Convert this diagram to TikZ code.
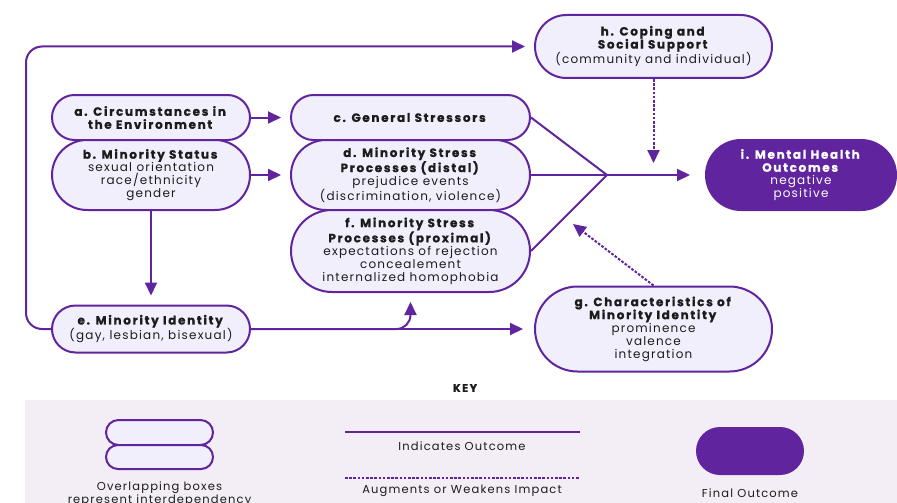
\documentclass[tikz,border=0pt]{standalone}
\usepackage{fontspec}
\setmainfont{Poppins}[LetterSpace=10, BoldFeatures={LetterSpace=14, FakeBold=0.8}]
\usetikzlibrary{arrows.meta,shapes.misc}

\definecolor{msPurple}{RGB}{96,36,158}
\definecolor{msPurpleBg}{RGB}{242,239,252}
\definecolor{msKeyBg}{RGB}{243,238,246}
\definecolor{msText}{RGB}{28,28,28}

\tikzset{
  pill/.style={rounded rectangle, draw=msPurple, line width=2pt, fill=msPurpleBg,
    align=center, inner sep=0pt, text=msText, font=\fontsize{12}{13}\selectfont},
  final/.style={pill, fill=msPurple, text=white},
  flow/.style={draw=msPurple, line width=2pt, -{Triangle[length=13pt,width=12pt]}, shorten >=9pt},
  dotflow/.style={flow, dash pattern=on 2.6pt off 1.6pt},
  keytext/.style={text=msText, font=\fontsize{11.5}{13}\selectfont, align=center}
}

\begin{document}
\begin{tikzpicture}[x=1pt,y=-1pt]
\useasboundingbox (0,0) rectangle (897,503);
%% ---- boxes ----
\node[pill, minimum width=198pt, minimum height=45pt] (a) at (151,117.5)
  {\textbf{a. Circumstances in}\\\textbf{the Environment}};
\node[pill, minimum width=198pt, minimum height=70pt] (b) at (151,175)
  {\textbf{b. Minority Status}\\sexual orientation\\race/ethnicity\\gender};
\node[pill, minimum width=239pt, minimum height=45pt] (c) at (410.5,117.5)
  {\textbf{c. General Stressors}};
\node[pill, minimum width=239pt, minimum height=70pt] (d) at (410.5,175)
  {\textbf{d. Minority Stress}\\\textbf{Processes (distal)}\\prejudice events\\(discrimination, violence)};
\node[pill, minimum width=239pt, minimum height=82pt] (f) at (410.5,251)
  {\textbf{f. Minority Stress}\\\textbf{Processes (proximal)}\\expectations of rejection\\concealement\\internalized homophobia};
\node[pill, minimum width=198pt, minimum height=47pt] (e) at (151,329)
  {\textbf{e. Minority Identity}\\(gay, lesbian, bisexual)};
\node[pill, minimum width=237pt, minimum height=63pt] (h) at (653.5,46.5)
  {\textbf{h. Coping and}\\\textbf{Social Support}\\(community and individual)};
\node[pill, minimum width=237pt, minimum height=85pt] (g) at (653.5,329)
  {\textbf{g. Characteristics of}\\\textbf{Minority Identity}\\prominence\\valence\\integration};
\node[final, minimum width=190pt, minimum height=70pt] (i) at (801,175)
  {\textbf{i. Mental Health}\\\textbf{Outcomes}\\negative\\positive};

%% ---- connectors ----
\coordinate (fork) at (607,175);
\coordinate (gtip) at (573,224);
\draw[flow, rounded corners=16pt] (e.west) -- ++(-25,0) |- (h.west);
\draw[flow] (a.east) -- (c.west);
\draw[flow] (b.east) -- (d.west);
\draw[flow] (b.south) -- (e.north);
\draw[flow, shorten >=11pt] (e.east) -- (g.west);
\draw[flow, rounded corners=14pt] (e.east) -| (f.south);
\foreach \src in {c,d,f}
  \draw[draw=msPurple, line width=2pt] (\src.east) -- (fork);
\draw[flow, shorten >=15pt] (fork) -- (i.west);
\draw[dotflow, shorten >=12pt] (h.south) -- (h.south |- fork);
\draw[dotflow, shorten >=0pt] (g.north) -- (gtip);

%% ---- key ----
\node[font=\fontsize{11}{13}\selectfont\bfseries, text=msText] (keyhead) at (465,388) {KEY};
\fill[msKeyBg] (25,400) rectangle (897,503);
\node[pill, minimum width=107pt, minimum height=25pt] (k1) at (159.5,432.5) {};
\node[pill, minimum width=107pt, minimum height=24pt] (k2) at (159.5,457) {};
\node[keytext] (k1t) at (159.5,494) {Overlapping boxes\\represent interdependency};
\draw[draw=msPurple, line width=2pt] (345,432) -- (580,432);
\node[keytext] (k2t) at (462,446) {Indicates Outcome};
\draw[draw=msPurple, line width=2pt, dash pattern=on 2.6pt off 1.6pt] (345,478) -- (580,478);
\node[keytext] (k3t) at (462,491) {Augments or Weakens Impact};
\node[final, minimum width=106pt, minimum height=46pt] (k3) at (750,451) {};
\node[keytext] (k4t) at (750,493) {Final Outcome};
\end{tikzpicture}
\end{document}
